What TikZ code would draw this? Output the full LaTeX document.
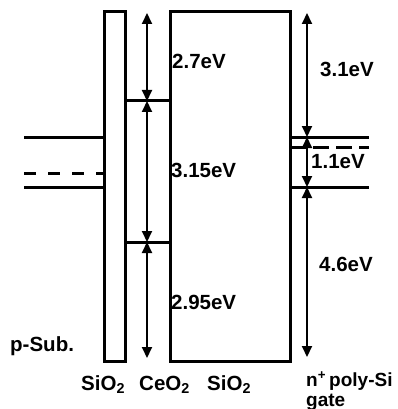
\documentclass[tikz,border=0pt]{standalone}
\usepackage{fontspec}
\setmainfont{Liberation Sans}
\usetikzlibrary{arrows.meta}

\begin{document}
\begin{tikzpicture}[
    x=1pt, y=-1pt,
    font=\bfseries\fontsize{20.5}{23}\selectfont,
    band/.style={line width=3pt},
    dband/.style={band, dash pattern=on 12pt off 12pt},
    gap/.style={{Triangle[length=11pt,width=10pt]}-{Triangle[length=11pt,width=10pt]}, line width=2pt},
    lbl/.style={inner sep=0pt, anchor=base west}
]

\useasboundingbox (0,0) rectangle (398,409);

% oxide stack
\draw[band] (104,12) rectangle (125,361);
\draw[band] (170,12) rectangle (290,361);
\draw[band] (125,101) -- (170,101);
\draw[band] (125,242) -- (170,242);

% p-Sub. and gate levels
\draw[band] (24,137) -- (104,137);
\draw[dband] (24,173) -- (104,173);
\draw[band] (24,187) -- (104,187);
\draw[band] (290,137) -- (369,137);
\draw[band, dash pattern=on 16pt off 7pt] (290,147) -- (369,147);
\draw[band] (290,187) -- (369,187);

\coordinate (ceTop) at (147,13);
\coordinate (ceC) at (147,101);
\coordinate (ceV) at (147,242);
\coordinate (ceBot) at (147,358);
\coordinate (gTop) at (307,13);
\coordinate (gC) at (307,137);
\coordinate (gV) at (307,187);
\coordinate (gBot) at (307,357);

\draw[gap] (ceTop) -- (ceC);
\draw[gap] (ceC) -- (ceV);
\draw[gap] (ceV) -- (ceBot);
\draw[gap] (gTop) -- (gC);
\draw[gap] (gC) -- (gV);
\draw[gap] (gV) -- (gBot);

\node[lbl] (e27) at (172,69) {2.7eV};
\node[lbl] (e315) at (171,177) {3.15eV};
\node[lbl] (e295) at (171,309) {2.95eV};
\node[lbl] (e31) at (320,77) {3.1eV};
\node[lbl] (e11) at (311,168) {1.1eV};
\node[lbl] (e46) at (319,271) {4.6eV};

\node[lbl] (psub) at (10,351) {p-Sub.};
\node[lbl] (ox1) at (81,390) {SiO\textsubscript{2}};
\node[lbl] (ceo) at (139,390) {CeO\textsubscript{2}};
\node[lbl] (ox2) at (207,390) {SiO\textsubscript{2}};
\node[lbl, font=\bfseries\fontsize{19}{21}\selectfont] (gate) at (306,386) {n\textsuperscript{+}\,poly-Si};
\node[lbl, font=\bfseries\fontsize{19}{21}\selectfont] (gate2) at (306,406) {gate};

\end{tikzpicture}
\end{document}
